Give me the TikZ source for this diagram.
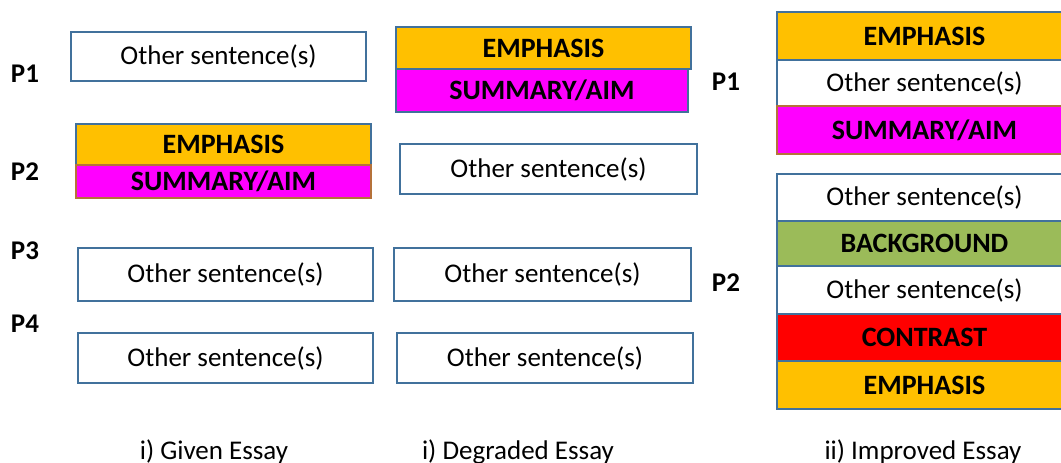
\documentclass[tikz,border=0pt]{standalone}
\usepackage{fontspec}
\setmainfont{Carlito}
\definecolor{edgeblue}{HTML}{41719C}
\definecolor{edgebrown}{HTML}{B5723A}
\definecolor{emphfill}{HTML}{FFC000}
\definecolor{sumfill}{HTML}{FF00FF}
\definecolor{bgfill}{HTML}{9BBB59}
\definecolor{confill}{HTML}{FF0000}
\begin{document}
\begin{tikzpicture}[x=1pt,y=-1pt,
  seg/.style={draw=edgeblue, line width=2pt, fill=white, inner sep=0pt,
    anchor=north west, minimum width=295pt, minimum height=#1,
    font=\fontsize{27}{30}\selectfont},
  seg/.default=49pt,
  tagged/.style={font=\fontsize{28}{30}\selectfont\bfseries},
  emph/.style={fill=emphfill},
  summ/.style={fill=sumfill},
  backg/.style={fill=bgfill},
  contr/.style={fill=confill},
  brownedge/.style={draw=edgebrown},
  plabel/.style={font=\fontsize{27}{30}\selectfont\bfseries, inner sep=0pt},
  caption/.style={font=\fontsize{27}{30}\selectfont, anchor=base, inner sep=0pt}]
\useasboundingbox (0,0) rectangle (1061,463);
\clip (0,0) rectangle (1061,463);

% given essay
\node[seg] (g1) at (70,31) {Other sentence(s)};
\node[seg=41pt, emph, tagged] (g2e) at (75,123) {EMPHASIS};
\node[seg=33pt, summ, brownedge, tagged] (g2s) at (75,164) {SUMMARY/AIM};
\node[seg=53pt] (g3) at (77,247) {Other sentence(s)};
\node[seg=50pt] (g4) at (77,332) {Other sentence(s)};

% degraded essay
\node[seg=42pt, emph, tagged] (d1e) at (395,26) {EMPHASIS};
\node[seg=43pt, summ, tagged, minimum width=292pt] (d1s) at (395,68) {SUMMARY/AIM};
\node[seg=50pt, minimum width=297pt] (d2) at (399,143) {Other sentence(s)};
\node[seg=53pt, minimum width=297pt] (d3) at (393,247) {Other sentence(s)};
\node[seg=50pt, minimum width=296pt] (d4) at (396,332) {Other sentence(s)};

% improved essay
\node[seg=48pt, emph, tagged] (m1e) at (776,11) {EMPHASIS};
\node[seg=46pt] (m1o) at (776,59) {Other sentence(s)};
\node[seg=48pt, summ, brownedge, tagged] (m1s) at (776,105) {SUMMARY/AIM};
\node[seg=47pt] (m2o1) at (776,173) {Other sentence(s)};
\node[seg=45pt, backg, tagged] (m2b) at (776,220) {BACKGROUND};
\node[seg=48pt] (m2o2) at (776,265) {Other sentence(s)};
\node[seg=47pt, contr, tagged] (m2c) at (776,313) {CONTRAST};
\node[seg=48pt, emph, tagged] (m2e) at (776,360) {EMPHASIS};

% paragraph labels
\node[plabel] (pl1) at (25,74) {P1};
\node[plabel] (pl2) at (25,172) {P2};
\node[plabel] (pl3) at (25,251) {P3};
\node[plabel] (pl4) at (25,324) {P4};
\node[plabel] (pr1) at (726,82) {P1};
\node[plabel] (pr2) at (726,283) {P2};

% captions
\node[caption] (c1) at (214,459) {i) Given Essay};
\node[caption] (c2) at (518,459) {i) Degraded Essay};
\node[caption] (c3) at (923,459) {ii) Improved Essay};
\end{tikzpicture}
\end{document}
